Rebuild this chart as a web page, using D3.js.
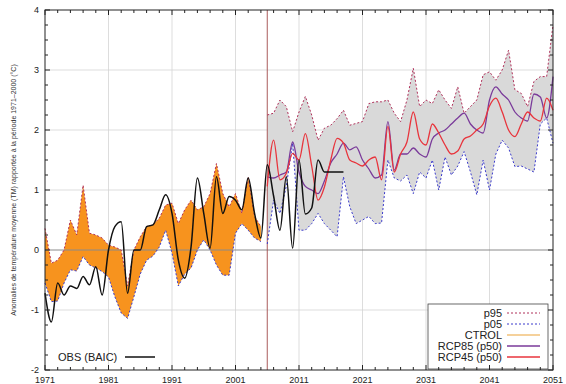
<!DOCTYPE html>
<html><head><meta charset="utf-8">
<script src="https://cdn.jsdelivr.net/npm/d3@7"></script>
<style>body{margin:0;background:#fff}svg{display:block;font-family:"Liberation Sans",Arial,sans-serif}</style>
</head><body><svg id="c" width="566" height="384"></svg>
<script>
const ctrlStart = 1971;
const ctrlP95 = [0.36,-0.22,-0.17,0.0,0.5,0.25,1.08,0.28,0.25,0.2,0.08,0.05,0.0,-0.6,0.0,0.22,0.39,0.42,0.53,0.75,0.78,0.44,0.67,0.83,0.67,0.72,0.94,1.44,0.94,0.72,0.94,0.61,1.22,0.56,0.39];
const ctrlP05 = [-0.55,-0.86,-0.85,-0.55,-0.33,-0.35,-0.11,-0.25,-0.3,-0.36,-0.45,-0.78,-1.05,-1.14,-0.78,-0.4,-0.17,-0.1,0.05,0.33,-0.05,-0.6,-0.4,-0.3,0.0,0.17,0.0,-0.25,-0.42,-0.42,0.28,0.44,0.33,0.2,0.14];
const obsStart = 1971;
const obs = [-0.72,-1.2,-0.55,-0.75,-0.6,-0.64,-0.44,-0.58,-0.28,-0.75,0.0,0.39,0.47,-0.72,0.0,0.0,0.39,0.42,0.67,0.92,0.61,-0.17,-0.47,0.05,1.2,0.61,0.03,1.22,0.61,0.89,0.83,0.67,1.2,0.61,0.2,1.42,0.9,0.33,1.22,0.03,1.5,0.6,0.7,1.5,1.3,1.3,1.3,1.3];
const projStart = 2006;
const p95 = [2.25,2.28,2.5,2.39,1.97,2.3,2.56,2.25,1.83,2.03,2.08,2.19,2.33,2.08,2.11,2.14,2.44,2.47,2.47,2.5,2.28,2.14,2.5,3.03,2.39,2.5,2.44,2.67,2.5,2.36,2.72,2.28,2.39,2.5,2.92,2.97,2.83,3.0,3.33,2.67,2.61,2.39,2.81,2.89,2.89,3.75];
const p05 = [0.1,0.83,0.61,1.06,1.78,0.33,0.33,0.44,0.61,0.44,0.33,0.22,1.22,0.72,0.44,0.5,0.56,0.44,0.45,1.5,1.2,1.15,1.25,0.94,1.3,1.2,1.5,1.0,1.55,1.25,1.4,1.64,1.3,0.92,1.5,1.0,1.6,1.83,1.7,1.39,1.4,1.35,1.3,2.1,2.2,1.78];
const rcp45 = [1.06,1.83,1.17,1.28,1.61,1.5,1.94,1.4,0.83,1.05,1.5,1.86,1.78,1.5,1.45,1.4,1.5,1.55,1.17,2.06,1.3,1.6,1.8,2.3,1.85,1.75,2.1,1.95,1.75,1.6,1.65,1.85,1.9,2.0,2.1,2.4,2.53,2.3,2.0,1.89,2.1,2.3,2.2,2.15,2.53,2.33];
const rcp85 = [1.22,1.2,1.25,1.3,1.8,1.3,1.06,1.0,0.94,1.15,1.45,1.6,1.78,1.67,1.72,1.5,1.35,1.2,1.25,2.14,1.33,1.6,1.6,1.7,1.6,1.55,1.85,1.95,2.0,2.1,2.2,2.28,2.1,2.0,1.95,2.5,2.72,2.6,2.5,2.3,2.2,2.15,2.6,2.55,2.2,2.89];
const xTicks = [1971,1981,1991,2001,2011,2021,2031,2041,2051];
const yTicks = [-2,-1,0,1,2,3,4];
const legendItems = ["p95","p05","CTROL","RCP85 (p50)","RCP45 (p50)"];
const obsLabel = "OBS (BAIC)";
const yTitle = "Anomalies de température moyenne (TM) rapportée à la période 1971–2000 (°C)";
const splitYear = 2006;

const C = {orange:"#f7931e", gray:"#d9d9d9", p95:"#b0305a", p05:"#3a3acc", ctrl:"#f2c27a", r85:"#7a3a9a", r45:"#e8343c"};
const L=45,R=553,T=10,B=370;
const svg=d3.select("#c");
const x=d3.scaleLinear().domain([1971,2051]).range([L,R]);
const y=d3.scaleLinear().domain([-2,4]).range([B,T]);
const ser=(start,arr)=>arr.map((v,i)=>[start+i,v]);

// grid
const g=svg.append("g");
g.selectAll(".vg").data(xTicks.slice(1,-1)).join("line").attr("x1",d=>x(d)).attr("x2",d=>x(d)).attr("y1",T).attr("y2",B).attr("stroke","#d4d4d4").attr("stroke-width",0.8);
g.selectAll(".hg").data(yTicks.filter(d=>d!==0&&d>-2&&d<4)).join("line").attr("y1",d=>y(d)).attr("y2",d=>y(d)).attr("x1",L).attr("x2",R).attr("stroke","#d4d4d4").attr("stroke-width",0.8);

// bands
const band=(start,hi,lo,fill)=>{
  const data=hi.map((v,i)=>({t:start+i,hi:v,lo:lo[i]}));
  svg.append("path").datum(data).attr("fill",fill)
    .attr("d",d3.area().x(d=>x(d.t)).y0(d=>y(d.lo)).y1(d=>y(d.hi)));
};
band(projStart,p95,p05,C.gray);
band(ctrlStart,ctrlP95,ctrlP05,C.orange);

// zero line and split line
svg.append("line").attr("x1",L).attr("x2",R).attr("y1",y(0)).attr("y2",y(0)).attr("stroke","#8a8a8a").attr("stroke-width",1);
svg.append("line").attr("x1",x(splitYear)).attr("x2",x(splitYear)).attr("y1",T).attr("y2",B).attr("stroke","#a04848").attr("stroke-width",0.9);

const lin=d3.line().x(d=>x(d[0])).y(d=>y(d[1]));
const smooth=d3.line().x(d=>x(d[0])).y(d=>y(d[1])).curve(d3.curveMonotoneX);
const dashed=(data,col)=>svg.append("path").datum(data).attr("fill","none").attr("stroke",col).attr("stroke-width",1).attr("stroke-dasharray","2,2").attr("d",lin);
dashed(ser(ctrlStart,ctrlP95),C.p95);
dashed(ser(ctrlStart,ctrlP05),C.p05);
dashed(ser(projStart,p95),C.p95);
dashed(ser(projStart,p05),C.p05);
const solid=(data,col,w)=>svg.append("path").datum(data).attr("fill","none").attr("stroke",col).attr("stroke-width",w).attr("d",smooth);
solid(ser(projStart,rcp85),C.r85,1.3);
solid(ser(projStart,rcp45),C.r45,1.3);
solid(ser(obsStart,obs),"#111",1.5);

// legend
const lg=svg.append("g");
lg.append("rect").attr("x",428).attr("y",304).attr("width",120).attr("height",65).attr("fill","#fff").attr("stroke","#444").attr("stroke-width",0.8);
const lcols=[C.p95,C.p05,C.ctrl,C.r85,C.r45];
legendItems.forEach((t,i)=>{
  const yy=313+i*11;
  lg.append("text").attr("x",502).attr("y",yy+4).attr("text-anchor","end").attr("font-size",11).attr("fill","#222").text(t);
  const ln=lg.append("line").attr("x1",507).attr("x2",540).attr("y1",yy).attr("y2",yy).attr("stroke",lcols[i]).attr("stroke-width",i<2?1:1.6);
  if(i<2) ln.attr("stroke-dasharray","2,2");
});
svg.append("text").attr("x",58).attr("y",361).attr("font-size",11).attr("fill","#222").text(obsLabel);
svg.append("line").attr("x1",125).attr("x2",155).attr("y1",357).attr("y2",357).attr("stroke","#111").attr("stroke-width",1.5);

// frame and ticks
svg.append("rect").attr("x",L).attr("y",T).attr("width",R-L).attr("height",B-T).attr("fill","none").attr("stroke","#222").attr("stroke-width",1);
const xMinor=d3.range(1971,2052,2), yMinor=d3.range(-2,4.001,0.25);
const tk=svg.append("g").attr("stroke","#222").attr("stroke-width",1);
xMinor.forEach(v=>{const len=xTicks.includes(v)?5:3;
  tk.append("line").attr("x1",x(v)).attr("x2",x(v)).attr("y1",B).attr("y2",B-len);
  tk.append("line").attr("x1",x(v)).attr("x2",x(v)).attr("y1",T).attr("y2",T+len);});
yMinor.forEach(v=>{const len=Number.isInteger(v)?5:3;
  tk.append("line").attr("y1",y(v)).attr("y2",y(v)).attr("x1",L).attr("x2",L+len);
  tk.append("line").attr("y1",y(v)).attr("y2",y(v)).attr("x1",R).attr("x2",R-len);});
svg.append("g").selectAll("text").data(xTicks).join("text").attr("x",d=>x(d)).attr("y",383).attr("text-anchor","middle").attr("font-size",9).attr("fill","#222").text(d=>d);
svg.append("g").selectAll("text").data(yTicks).join("text").attr("x",39).attr("y",d=>y(d)+3).attr("text-anchor","end").attr("font-size",9).attr("fill","#222").text(d=>d);
svg.append("text").attr("transform","translate(16,190) rotate(-90)").attr("text-anchor","middle").attr("font-size",7).attr("fill","#333").text(yTitle);
</script></body></html>
